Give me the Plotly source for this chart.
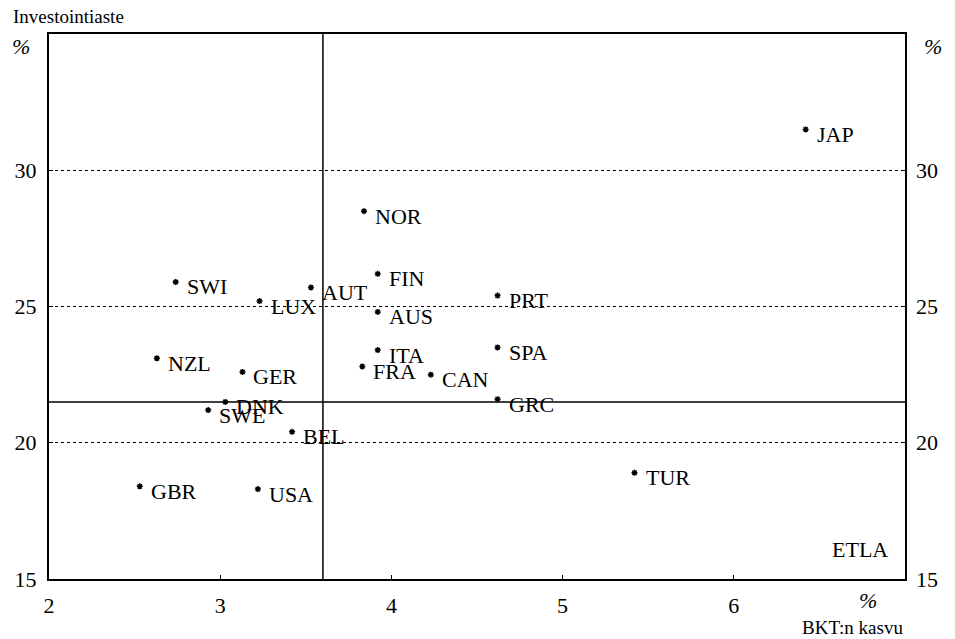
import plotly.graph_objects as go

countries = ["JAP", "NOR", "FIN", "AUS", "PRT", "AUT", "SWI", "LUX", "NZL", "GER", "ITA",
             "SPA", "FRA", "CAN", "GRC", "DNK", "SWE", "BEL", "GBR", "USA", "TUR"]
gdp_growth = [6.42, 3.84, 3.92, 3.92, 4.62, 3.53, 2.74, 3.23, 2.63, 3.13, 3.92,
              4.62, 3.83, 4.23, 4.62, 3.03, 2.93, 3.42, 2.53, 3.22, 5.42]
invest_rate = [31.5, 28.5, 26.2, 24.8, 25.4, 25.7, 25.9, 25.2, 23.1, 22.6, 23.4,
               23.5, 22.8, 22.5, 21.6, 21.5, 21.2, 20.4, 18.4, 18.3, 18.9]
mean_growth = 3.6
mean_invest = 21.5
x_ticks = [2, 3, 4, 5, 6]
y_ticks = [15, 20, 25, 30]

FONT = "'Liberation Serif', 'DejaVu Serif', serif"

fig = go.Figure()
fig.add_trace(go.Scatter(
    x=gdp_growth, y=invest_rate, mode="markers",
    marker=dict(symbol="asterisk", size=5, color="black", line=dict(color="black", width=1.5)),
    showlegend=False, hoverinfo="skip"))
fig.add_trace(go.Scatter(x=[2], y=[15], yaxis="y2", mode="markers",
                         marker=dict(opacity=0), showlegend=False, hoverinfo="skip"))

# country labels, placed just right of and slightly below each point
for c, gx, iy in zip(countries, gdp_growth, invest_rate):
    fig.add_annotation(x=gx, y=iy, xref="x", yref="y", text=c, showarrow=False,
                       xanchor="left", yanchor="middle", xshift=9, yshift=-5,
                       font=dict(family=FONT, size=22, color="black"))

fig.add_shape(type="line", xref="x", yref="y", x0=mean_growth, x1=mean_growth, y0=15, y1=35,
              line=dict(color="black", width=1.5))
fig.add_shape(type="line", xref="x", yref="y", x0=2, x1=7, y0=mean_invest, y1=mean_invest,
              line=dict(color="black", width=1.5))

axis_font = dict(family=FONT, size=22, color="black")
# page body has an 8px margin: figure shrunk by 8px, margins shifted accordingly
fig.update_layout(
    width=947, height=631,
    margin=dict(l=41, r=50, t=26, b=60, autoexpand=False),
    paper_bgcolor="white", plot_bgcolor="white",
    font=dict(family=FONT, color="black"),
    xaxis=dict(range=[2, 7], tickvals=x_ticks, showgrid=False, zeroline=False,
               showline=True, linecolor="black", linewidth=2, mirror=True,
               ticks="inside", ticklen=4, tickcolor="black", automargin=False,
               tickfont=axis_font, ticklabelstandoff=6),
    yaxis=dict(range=[15, 35], tickvals=y_ticks, showgrid=True, gridcolor="black",
               griddash="dot", gridwidth=1, zeroline=False,
               showline=True, linecolor="black", linewidth=2, mirror=True,
               ticks="inside", ticklen=4, tickcolor="black", automargin=False,
               tickfont=axis_font, ticklabelstandoff=6),
    yaxis2=dict(range=[15, 35], tickvals=y_ticks, overlaying="y", side="right",
                showgrid=False, zeroline=False, showline=False, automargin=False,
                ticks="inside", ticklen=4, tickcolor="black",
                tickfont=axis_font, ticklabelstandoff=10),
)

# plot area in window pixels: x 49..905, y 34..579
def pax(px):
    return (px - 49) / 856

def pay(py):
    return (579 - py) / 545

annots = [
    dict(text="Investointiaste", x=pax(11), y=pay(16), xanchor="left", yanchor="middle", size=19),
    dict(text="<i>%</i>", x=pax(21), y=pay(46), xanchor="center", yanchor="middle", size=22),
    dict(text="<i>%</i>", x=pax(933), y=pay(46), xanchor="center", yanchor="middle", size=22),
    dict(text="<i>%</i>", x=pax(868), y=pay(600), xanchor="center", yanchor="middle", size=22),
    dict(text="BKT:n kasvu", x=pax(905), y=pay(627), xanchor="right", yanchor="middle", size=19),
    dict(text="ETLA", x=pax(890), y=pay(549), xanchor="right", yanchor="middle", size=22),
]
for a in annots:
    fig.add_annotation(text=a["text"], x=a["x"], y=a["y"], xref="paper", yref="paper",
                       xanchor=a["xanchor"], yanchor=a["yanchor"], showarrow=False,
                       font=dict(family=FONT, size=a["size"], color="black"))

fig.write_html("out.html")
